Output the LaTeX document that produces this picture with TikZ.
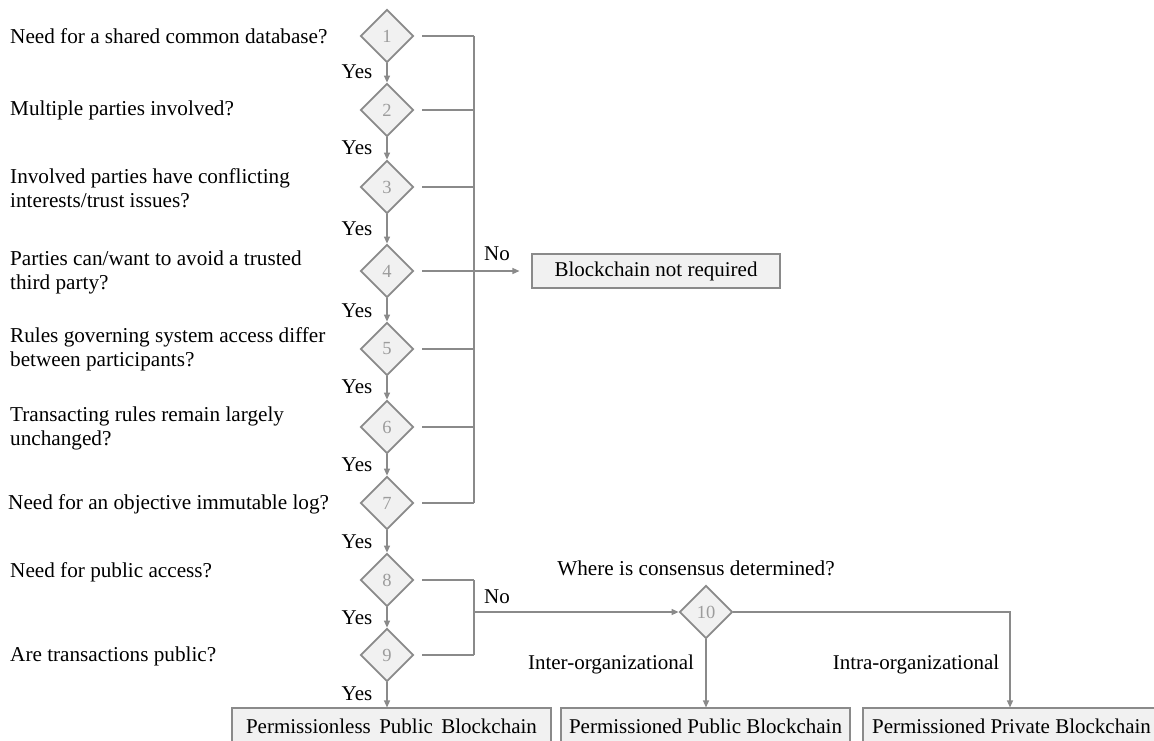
\documentclass[tikz,border=0pt]{standalone}
\usepackage{fontspec}
\setmainfont{Liberation Serif}
\usetikzlibrary{shapes.geometric,arrows.meta}
\definecolor{linegray}{HTML}{8A8A8A}
\definecolor{boxfill}{HTML}{F1F1F1}
\definecolor{numgray}{HTML}{9C9C9C}
\begin{document}
\begin{tikzpicture}[x=1pt,y=-1pt,
  question/.style={anchor=west,align=left,inner sep=0pt,font=\fontsize{21.2}{24}\selectfont},
  yeslabel/.style={inner sep=0pt,font=\fontsize{21}{24}\selectfont},
  decision/.style={diamond,draw=linegray,line width=1.8pt,fill=boxfill,
    minimum width=53pt,minimum height=53pt,inner sep=0pt,
    text=numgray,font=\fontsize{18.5}{20}\selectfont},
  outcome/.style={rectangle,draw=linegray,line width=1.1pt,fill=boxfill,
    inner sep=0pt,font=\fontsize{21}{24}\selectfont},
  flow/.style={draw=linegray,line width=1.3pt},
  arr/.style={flow,-{Triangle[length=7pt,width=6pt]}}
]
\useasboundingbox (0,0) rectangle (1154,740);
\clip (0,0) rectangle (1154,740);

% decision diamonds
\node[decision] (d1) at (387,36) {1};
\node[decision] (d2) at (387,110) {2};
\node[decision] (d3) at (387,187) {3};
\node[decision] (d4) at (387,271) {4};
\node[decision] (d5) at (387,349) {5};
\node[decision] (d6) at (387,427) {6};
\node[decision] (d7) at (387,503) {7};
\node[decision] (d8) at (387,580) {8};
\node[decision] (d9) at (387,655) {9};
\node[decision] (d10) at (706,612) {10};

% questions
\node[question] (q1) at (10,36) {Need for a shared common database?};
\node[question] (q2) at (10,110) {Multiple parties involved?};
\node[question] (q3) at (10,188) {Involved parties have conflicting\\interests/trust issues?};
\node[question] (q4) at (10,272) {Parties can/want to avoid a trusted\\third party?};
\node[question] (q5) at (10,349) {Rules governing system access differ\\between participants?};
\node[question] (q6) at (10,428) {Transacting rules remain largely\\unchanged?};
\node[question] (q7) at (8,504) {Need for an objective immutable log?};
\node[question] (q8) at (10,572) {Need for public access?};
\node[question] (q9) at (10,656) {Are transactions public?};
\node[question,anchor=center] (q10) at (696,568) {Where is consensus determined?};

% outcomes
\node[outcome,minimum width=248pt,minimum height=34pt] (none) at (656,271) {Blockchain not required};
\node[outcome,minimum width=319pt,minimum height=36pt] (pub) at (391.5,726) {Permissionless\hspace{0.15em} Public\hspace{0.15em} Blockchain};
\node[outcome,minimum width=289pt,minimum height=36pt] (perm) at (705.5,726) {Permissioned Public Blockchain};
\node[outcome,minimum width=297pt,minimum height=36pt] (priv) at (1011.5,726) {Permissioned Private Blockchain};

% "Yes" chain
\foreach \a/\b in {d1/d2,d2/d3,d3/d4,d4/d5,d5/d6,d6/d7,d7/d8,d8/d9}
  \draw[arr] (\a.south) -- (\b.north);
\draw[arr] (d9.south) -- (d9.south |- pub.north);
\node[yeslabel] (y1) at (357,72) {Yes};
\node[yeslabel] (y2) at (357,148) {Yes};
\node[yeslabel] (y3) at (357,229) {Yes};
\node[yeslabel] (y4) at (357,311) {Yes};
\node[yeslabel] (y5) at (357,387) {Yes};
\node[yeslabel] (y6) at (357,465) {Yes};
\node[yeslabel] (y7) at (357,542) {Yes};
\node[yeslabel] (y8) at (357,618) {Yes};
\node[yeslabel] (y9) at (357,694) {Yes};

% "No" bus for questions 1-7
\coordinate (bustop) at (474,36);
\coordinate (busbot) at (474,503);
\coordinate (busmid) at (474,271);
\foreach \d in {d1,d2,d3,d4,d5,d6,d7}
  \draw[flow,shorten <=8pt] (\d.east) -- (\d.east -| bustop);
\draw[flow] (bustop) -- (busbot);
\draw[arr,shorten >=12pt] (busmid) -- (none.west);
\node[yeslabel] (no1) at (497,254) {No};

% "No" bus for questions 8-9
\coordinate (bus2top) at (474,580);
\coordinate (bus2bot) at (474,655);
\coordinate (bus2mid) at (474,612);
\foreach \d in {d8,d9}
  \draw[flow,shorten <=8pt] (\d.east) -- (\d.east -| bus2top);
\draw[flow] (bus2top) -- (bus2bot);
\draw[arr] (bus2mid) -- (d10.west);
\node[yeslabel] (no2) at (497,597) {No};

% consensus branches
\coordinate (turn) at (1010,612);
\draw[arr] (d10.south) -- (d10.south |- perm.north);
\draw[arr] (d10.east) -- (turn) -- (turn |- priv.north);
\node[yeslabel] (inter) at (611,664) {Inter-organizational};
\node[yeslabel] (intra) at (916,664) {Intra-organizational};
\end{tikzpicture}
\end{document}
